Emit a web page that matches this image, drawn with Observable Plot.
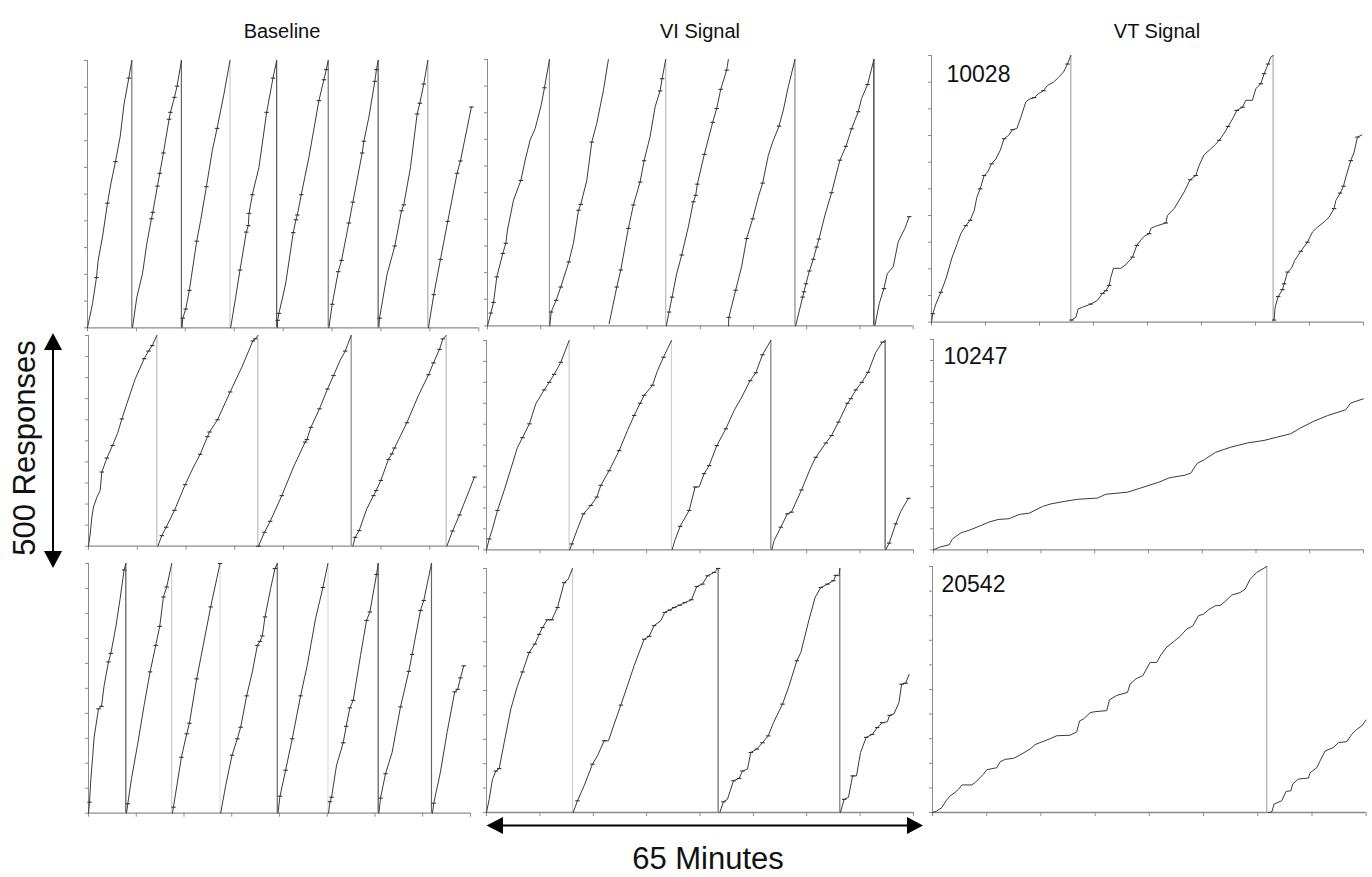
<!DOCTYPE html>
<html>
<head>
<meta charset="utf-8">
<script src="https://cdn.jsdelivr.net/npm/d3@7"></script>
<script src="https://cdn.jsdelivr.net/npm/@observablehq/plot@0.6"></script>
<style>
  body { margin: 0; background: #fff; font-family: Arial, "Liberation Sans", sans-serif; }
  #page { position: relative; width: 1372px; height: 877px; overflow: hidden; background: #fff; }
  .panel { position: absolute; }
  #overlay { position: absolute; left: 0; top: 0; pointer-events: none; }
</style>
</head>
<body>
<div id="page"></div>
<script>
// Cumulative records: each segment is one pen excursion from 0 to 500 responses,
// points are [minute, pen position (responses), reinforcer mark].

const columnTitles = ["Baseline", "VI Signal", "VT Signal"];
const subjects = ["10028", "10247", "20542"];
const xTicks = d3.range(9).map(i => i * 65 / 8);
const yTicks = d3.range(0, 501, 50);

const baseline10028 = [
  [[0,0],[0.83,45],[1.49,94,1],[1.77,126],[2.49,170],[3.32,233,1],[3.87,269],[4.65,311,1],[5.42,357],[6.08,419],[6.86,467,1],[7.36,500]],
  [[7.47,0],[8.19,57],[9.13,101],[9.85,157],[10.62,204,1],[10.84,216,1],[11.62,265,1],[12.0,289,1],[12.61,327,1],[13.55,390,1],[13.77,403,1],[14.44,431,1],[14.88,452,1],[15.6,500]],
  [[15.71,0],[15.82,18,1],[16.32,35,1],[16.92,70,1],[18.14,162,1],[18.8,201],[19.75,264,1],[20.74,332],[21.52,373,1],[22.68,438],[23.67,500]],
  [[23.78,0],[24.61,57],[25.33,108,1],[26.38,179,1],[26.71,191,1],[26.83,214,1],[27.38,249,1],[28.48,300],[29.76,403,1],[30.81,467,1],[31.42,500]],
  [[31.53,0],[31.58,14,1],[31.8,27,1],[32.91,82],[34.18,178,1],[34.62,202,1],[34.85,211,1],[35.51,249,1],[36.78,319],[38.44,425,1],[39.27,464,1],[39.66,483,1],[39.99,500]],
  [[40.1,0],[40.65,44,1],[41.65,105,1],[42.2,126,1],[43.42,196,1],[44.08,235,1],[45.63,327,1],[45.91,349,1],[46.74,394],[47.73,461,1],[48.0,483,1],[48.28,500]],
  [[48.4,1],[48.51,18,1],[49.78,101],[51.05,153,1],[52.16,219,1],[52.54,230,1],[53.65,300],[54.76,400,1],[55.2,420,1],[55.86,456,1],[56.53,500]],
  [[56.64,0],[57.52,62,1],[58.63,128,1],[59.84,199,1],[61.39,289,1],[61.95,312,1],[63.77,413,1]]
];
const viSignal10028 = [
  [[0,0],[0.51,24,1],[0.92,44,1],[1.42,92,1],[2.34,136,1],[2.8,155,1],[3.05,180],[3.97,236],[5.09,273,1],[5.75,311],[6.51,349],[7.27,370],[8.19,414],[8.7,447,1],[9.46,500]],
  [[9.51,0],[9.72,26,1],[10.48,48,1],[11.19,73,1],[12.41,120,1],[13.12,155],[13.89,217,1],[14.24,228,1],[15.16,273],[15.92,345,1],[16.68,380],[17.7,442],[18.46,500]],
  [[18.57,4],[19.74,73,1],[20.35,105,1],[21.51,183,1],[22.28,227,1],[23.3,270,1],[23.91,310,1],[24.82,355],[25.59,411],[26.35,441,1],[26.66,464,1],[27.21,500]],
  [[27.31,0],[27.72,26,1],[28.18,54,1],[28.89,98],[29.65,133,1],[30.67,186],[31.43,233,1],[31.79,245,1],[32.04,266,1],[33.11,322,1],[34.38,382,1],[35.0,408,1],[35.61,444,1],[36.52,480,1],[36.78,500]],
  [[36.8,0],[36.85,16,1],[37.89,67,1],[38.8,111],[39.57,164,1],[40.49,201,1],[41.35,242],[42.01,268,1],[42.88,320],[43.54,345],[44.51,375,1],[45.17,405],[45.93,449],[46.95,500]],
  [[47.05,0],[48.12,54,1],[48.32,64,1],[48.63,79,1],[49.14,103,1],[49.75,125,1],[50.25,148,1],[50.61,163,1],[51.53,208],[52.54,250,1],[53.81,311,1],[54.73,337,1],[55.6,370,1],[56.61,402,1],[57.12,427],[58.04,453,1],[59.0,500]],
  [[59.16,1],[59.82,42],[60.53,70,1],[61.04,98],[61.95,111],[62.72,158],[63.73,183],[64.4,205,1]]
];
const vtSignal10028 = [
  [[0,0],[0.2,16,1],[0.65,34],[1.4,56,1],[2.16,81],[3.11,122],[3.86,147],[4.41,166],[5.16,181,1],[5.82,191,1],[6.42,209],[6.82,234],[7.32,250,1],[7.92,275,1],[8.43,281],[9.03,297,1],[9.68,306],[10.33,322],[10.93,344,1],[11.58,350],[12.19,361,1],[12.84,363],[13.44,384],[14.19,413],[14.69,418],[15.45,421,1],[16.05,428],[16.85,434,1],[17.45,444],[18.36,450],[19.11,459],[19.86,469],[20.46,484,1],[20.96,500]],
  [[21.06,4,1],[21.72,9],[22.07,25],[22.72,28],[23.97,34,1],[24.97,41],[25.73,54,1],[26.23,59,1],[26.73,69,1],[26.98,84],[27.38,101],[28.49,101],[29.24,108],[30.24,122,1],[30.89,144,1],[31.49,154],[32.0,161],[32.75,166,1],[33.0,176],[33.75,180],[35.26,186,1],[35.5,200],[36.51,213],[38.01,244],[38.91,267,1],[39.77,275,1],[40.27,294],[41.02,314],[42.03,325],[42.78,334],[43.28,341,1],[44.03,354],[44.63,367,1],[45.29,381],[45.94,397,1],[46.79,403,1],[47.29,416],[48.29,416],[48.8,438],[49.55,447,1],[50.05,466,1],[50.65,484,1],[51.05,497],[51.4,500]],
  [[51.55,4,1],[51.7,28],[52.16,48,1],[52.81,61,1],[53.06,72,1],[53.57,94,1],[54.16,101],[54.66,116],[55.57,133,1],[56.57,150,1],[57.32,169],[58.07,178],[59.08,188],[59.83,197],[60.58,213,1],[60.83,228],[61.49,242,1],[61.99,255,1],[62.34,272],[63.09,303,1],[63.59,319],[64.09,347,1],[64.75,351]]
];

const baseline10247 = [
  [[0,0],[0.28,29],[0.56,69],[0.83,93],[1.39,116],[1.94,132],[2.22,176,1],[3.06,209,1],[4.0,239,1],[4.83,267],[5.56,302,1],[6.39,338],[7.78,397],[9.28,445,1],[10.0,463,1],[10.61,476,1],[11.39,500]],
  [[11.56,0],[12.22,25,1],[12.94,45,1],[14.33,85,1],[16.11,146,1],[17.5,188],[18.61,218,1],[19.83,260,1],[20.17,271,1],[21.5,300,1],[23.61,366,1],[25.56,425],[27.39,487,1],[27.78,492,1],[28.22,500]],
  [[28.33,0,1],[29.33,33,1],[30.28,59,1],[32.22,120,1],[34.17,188],[36.11,247,1],[36.39,253,1],[37.06,282,1],[38.5,326,1],[39.83,373,1],[40.83,405,1],[41.94,441],[42.78,463,1],[43.78,500]],
  [[44.06,0],[44.44,21,1],[45.11,37,1],[46.39,89],[47.5,120,1],[47.94,132,1],[48.72,156,1],[50.0,206,1],[50.56,219,1],[51.0,233,1],[53.06,293,1],[55.0,358],[56.67,407,1],[57.5,435,1],[58.5,467,1],[59.06,492,1],[59.61,500]],
  [[59.72,0],[60.67,36,1],[61.83,74,1],[64.33,164,1]]
];
const viSignal10247 = [
  [[0,0],[0.41,26,1],[0.91,50],[1.67,94,1],[2.69,142],[3.7,193],[4.72,245],[5.48,268,1],[6.53,301,1],[7.51,349],[8.78,382,1],[9.54,400,1],[10.3,419,1],[11.31,448,1],[12.58,500]],
  [[12.68,0],[12.99,14,1],[13.85,50],[14.76,86,1],[15.88,106,1],[16.79,126,1],[17.4,154,1],[18.67,189,1],[20.19,237,1],[21.46,285],[22.48,321,1],[23.39,350,1],[24.0,369,1],[25.27,393,1],[26.03,428],[26.94,460,1],[28.16,500]],
  [[28.26,0],[28.67,22],[29.48,56,1],[30.85,94,1],[31.76,150,1],[32.37,150],[33.13,182,1],[33.89,201,1],[35.06,249,1],[36.43,289,1],[37.7,333],[38.86,365],[40.13,404,1],[41.0,423,1],[42.01,466,1],[43.28,500]],
  [[43.43,0],[43.78,22],[44.8,54,1],[45.81,86,1],[46.42,90,1],[47.95,143,1],[49.37,197],[50.13,221,1],[51.65,255,1],[52.52,273,1],[53.58,305,1],[54.95,350,1],[55.46,361,1],[56.22,382,1],[57.13,400,1],[58.09,424,1],[59.26,472],[60.27,496,1],[60.68,500]],
  [[60.78,0],[61.29,16,1],[62.3,62,1],[63.07,92],[64.23,123,1]]
];
const vtSignal10247 = [
  [[0,0],[0.86,6],[2.37,12],[2.87,26],[4.13,40],[5.64,48],[6.9,56],[8.41,66],[9.77,72],[11.44,74],[12.95,84],[14.46,87],[16.47,103],[17.73,109],[19.75,115],[21.76,120],[24.79,123],[26.05,132],[29.32,137],[31.34,147],[34.11,161],[35.62,171],[37.88,177],[38.89,182],[39.5,197],[39.9,206],[40.91,214],[42.67,232],[44.94,244],[47.46,254],[49.97,260],[52.99,272],[54.0,276],[55.52,290],[57.53,306],[59.55,319],[62.32,333],[63.07,349],[64.99,359]]
];

const baseline20542 = [
  [[0,0],[0.17,22,1],[0.4,69],[0.68,109],[0.96,152],[1.7,209,1],[2.21,214,1],[2.66,256],[3.4,303,1],[3.8,320,1],[4.65,373],[5.38,430],[6.06,487,1],[6.35,500]],
  [[6.46,0],[6.69,19,1],[7.31,69],[8.33,136],[9.46,216],[10.48,283,1],[11.44,336,1],[12.12,374,1],[12.75,433,1],[13.31,453,1],[14.16,500]],
  [[14.28,0],[14.45,12,1],[15.81,112,1],[16.71,159,1],[17.17,180,1],[18.41,269,1],[20.79,413,1],[22.38,500,1]],
  [[22.49,0],[23.34,55],[24.42,116,1],[25.33,149,1],[25.89,172,1],[26.91,235,1],[27.88,283],[28.73,336,1],[29.18,344,1],[29.58,355,1],[30.03,393,1],[30.99,450],[31.73,490,1],[32.12,500]],
  [[32.24,0],[32.58,34,1],[33.54,86,1],[34.67,149,1],[36.09,235,1],[37.22,296],[38.64,390],[39.89,452,1],[40.74,500]],
  [[40.85,0],[41.08,23,1],[41.36,32,1],[42.21,96],[43.34,141,1],[43.85,174,1],[44.48,211,1],[45.04,226,1],[46.29,316],[47.31,386,1],[47.88,403,1],[49.01,478,1],[49.29,500]],
  [[49.41,0],[49.69,30,1],[50.54,79,1],[51.67,122],[53.09,213,1],[54.5,284,1],[55.07,318,1],[56.49,406,1],[57.05,426,1],[58.36,500]],
  [[58.53,0],[58.75,20,1],[59.88,82],[61.02,162],[62.32,243,1],[62.83,248,1],[63.29,271,1],[63.85,295,1]]
];
const viSignal20542 = [
  [[0,0],[0.41,27],[0.91,68],[1.42,85,1],[1.93,90,1],[2.69,143],[3.7,212],[4.72,260],[5.48,288,1],[6.49,328,1],[7.36,345,1],[8.02,365,1],[8.52,379,1],[9.28,395,1],[9.94,395,1],[10.81,420,1],[11.82,471,1],[12.43,478],[13.09,500]],
  [[13.19,0],[13.85,24,1],[14.87,55],[16.13,99,1],[16.89,116],[17.91,147,1],[18.57,147],[19.43,181],[20.45,220,1],[21.46,260],[22.48,301],[24.0,355,1],[24.76,361,1],[25.52,383,1],[26.53,393],[27.14,410,1],[27.9,415,1],[28.56,420,1],[29.42,425,1],[30.19,430,1],[31.2,436,1],[32.01,463,1],[32.88,468,1],[33.64,485,1],[34.65,492,1],[35.26,500,1]],
  [[35.52,0],[36.07,22,1],[36.68,27],[37.6,65,1],[38.46,70,1],[38.96,85,1],[39.73,89],[40.23,123,1],[41.15,130,1],[42.01,143,1],[42.88,157,1],[43.68,184],[45.05,222,1],[46.07,260],[47.24,311,1],[47.85,328],[49.11,396],[50.03,441],[50.89,461,1],[51.9,468,1],[52.82,475,1],[53.17,486,1],[53.68,485],[53.78,500]],
  [[53.88,0],[54.44,27,1],[55.1,31],[55.72,75,1],[56.32,75],[56.94,123],[57.8,154,1],[58.71,160,1],[59.48,174,1],[60.24,184,1],[61.02,186],[61.37,199,1],[62.02,202],[62.78,225],[63.19,263,1],[63.8,265,1],[64.33,283]]
];
const vtSignal20542 = [
  [[0,0],[0.65,3],[1.4,10],[2.05,24],[2.65,34],[3.4,41],[3.9,47],[4.4,56],[5.89,56],[6.39,61],[7.14,71],[7.64,78],[8.14,87],[9.64,91],[10.14,103],[10.89,108],[12.14,110],[13.13,117],[14.63,129],[15.38,138],[16.13,142],[17.63,150],[18.63,156],[20.63,157],[21.63,164],[22.03,186],[22.63,190],[23.63,203],[24.38,205],[26.12,207],[26.52,229],[27.62,238],[29.22,244],[29.62,261],[30.52,272],[31.52,278],[32.62,305],[33.62,305],[34.12,318],[35.01,335],[36.11,347],[37.11,358],[38.11,373],[39.01,379],[39.86,400],[40.61,403],[41.36,412],[42.36,420],[43.11,421],[43.86,429],[44.86,442],[46.1,447],[46.85,454],[47.6,474],[48.6,488],[50.1,500]],
  [[50.35,0],[50.85,1],[51.2,17],[52.35,24],[53.0,43],[53.7,44],[54.0,58],[54.85,68],[56.35,70],[56.6,81],[57.6,91],[58.1,105],[58.84,125],[60.09,132],[60.84,142],[62.09,144],[62.84,159],[63.59,169],[64.34,176],[64.98,188]]
];

// Shade of the pen-reset stroke drawn at the end of each completed segment.
const resetShades = {
  baseline10028: ["#777", "#666", "#ccc", "#555", "#777", "#555", "#aaa"],
  viSignal10028: ["#999", "none", "#bbb", "none", "#888", "#222"],
  vtSignal10028: ["#aaa", "#aaa"],
  baseline10247: ["#bbb", "#bbb", "#888", "#bbb"],
  viSignal10247: ["#ccc", "#ccc", "#777", "#555"],
  vtSignal10247: [],
  baseline20542: ["#555", "#ccc", "#e0e0e0", "#666", "#ddd", "#555", "#666"],
  viSignal20542: ["#ccc", "#666", "#777"],
  vtSignal20542: ["#aaa"]
};

// Page layout: plot-area frame [left, top, right, bottom] in page pixels.
const layout = [
  {key: "baseline10028", data: baseline10028, frame: [86.7, 60, 478, 327.3]},
  {key: "viSignal10028", data: viSignal10028, frame: [487.3, 59.3, 913, 325.7]},
  {key: "vtSignal10028", data: vtSignal10028, frame: [930.7, 55, 1362.7, 321.7], label: subjects[0], dx: 15, dy: 10},
  {key: "baseline10247", data: baseline10247, frame: [88.3, 335, 478.3, 545.7]},
  {key: "viSignal10247", data: viSignal10247, frame: [485.7, 340, 912.7, 549.3]},
  {key: "vtSignal10247", data: vtSignal10247, frame: [932.7, 339, 1362.7, 549.3], label: subjects[1], dx: 10, dy: 8},
  {key: "baseline20542", data: baseline20542, frame: [87.5, 563, 469.5, 812.7]},
  {key: "viSignal20542", data: viSignal20542, frame: [485.7, 567.7, 912.7, 811.7]},
  {key: "vtSignal20542", data: vtSignal20542, frame: [932.3, 565.7, 1366, 811.7], label: subjects[2], dx: 9, dy: 9}
];

// Short horizontal stroke marking each reinforcer on the record.
const hashMark = {
  draw(context, size) {
    const w = Math.sqrt(size / Math.PI);
    context.moveTo(-w, 0);
    context.lineTo(w, 0);
  }
};

const page = document.getElementById("page");
const M = {top: 3, right: 3, bottom: 6, left: 6};
const axisGray = "#8c8c8c";

for (const p of layout) {
  const [x0, y0, x1, y1] = p.frame;
  const rows = p.data.flatMap((seg, i) => seg.map(([t, r, h]) => ({t, r, h: !!h, seg: i})));
  const resets = resetShades[p.key].map((shade, i) => ({t: p.data[i][p.data[i].length - 1][0], shade}));
  const chart = Plot.plot({
    width: x1 - x0 + M.left + M.right,
    height: y1 - y0 + M.top + M.bottom,
    marginTop: M.top, marginRight: M.right, marginBottom: M.bottom, marginLeft: M.left,
    x: {domain: [0, 65]},
    y: {domain: [0, 500]},
    color: {type: "identity"},
    style: {overflow: "visible", background: "transparent"},
    marks: [
      Plot.ruleX(resets, {x: "t", y1: 0, y2: 500, stroke: "shade", strokeWidth: 1.2}),
      Plot.axisY({ticks: yTicks, tickSize: 3, tickFormat: () => "", label: null, stroke: axisGray}),
      Plot.axisX({ticks: xTicks, tickSize: 4, tickFormat: () => "", label: null, stroke: axisGray}),
      Plot.ruleX([0], {stroke: axisGray}),
      Plot.ruleY([0], {stroke: axisGray, strokeWidth: 1.3}),
      Plot.line(rows, {x: "t", y: "r", z: "seg", stroke: "#3a3a3a", strokeWidth: 1}),
      Plot.dot(rows.filter(d => d.h), {x: "t", y: "r", symbol: hashMark, r: 2.2, stroke: "#333", fill: "none", strokeWidth: 1.1}),
      p.label ? Plot.text([p.label], {frameAnchor: "top-left", dx: p.dx, dy: p.dy, fontSize: 23, fill: "#111", fontFamily: "Arial, Liberation Sans, sans-serif"}) : null
    ]
  });
  chart.classList.add("panel");
  chart.style.left = (x0 - M.left) + "px";
  chart.style.top = (y0 - M.top) + "px";
  page.appendChild(chart);
}

// Column titles, axis captions and scale arrows.
const svg = d3.select(page).append("svg")
  .attr("id", "overlay").attr("width", 1372).attr("height", 877)
  .attr("font-family", "Arial, Liberation Sans, sans-serif");

const titleX = [282, 700, 1157];
columnTitles.forEach((t, i) => {
  svg.append("text").attr("x", titleX[i]).attr("y", 38).attr("text-anchor", "middle")
    .attr("font-size", 20).attr("fill", "#111").text(t);
});

svg.append("text").attr("transform", "translate(35,448) rotate(-90)")
  .attr("text-anchor", "middle").attr("font-size", 31).attr("fill", "#111").text("500 Responses");
svg.append("text").attr("x", 708).attr("y", 869)
  .attr("text-anchor", "middle").attr("font-size", 31).attr("fill", "#111").text("65 Minutes");

// vertical double arrow
svg.append("line").attr("x1", 53).attr("x2", 53).attr("y1", 345).attr("y2", 556)
  .attr("stroke", "#000").attr("stroke-width", 2);
svg.append("polygon").attr("points", "53,333 44,350 62,350").attr("fill", "#000");
svg.append("polygon").attr("points", "53,568 44,551 62,551").attr("fill", "#000");

// horizontal double arrow
svg.append("line").attr("x1", 498).attr("x2", 912).attr("y1", 825.5).attr("y2", 825.5)
  .attr("stroke", "#000").attr("stroke-width", 2);
svg.append("polygon").attr("points", "486.5,825.5 503,817 503,834").attr("fill", "#000");
svg.append("polygon").attr("points", "923,825.5 907,817 907,834").attr("fill", "#000");
</script>
</body>
</html>
